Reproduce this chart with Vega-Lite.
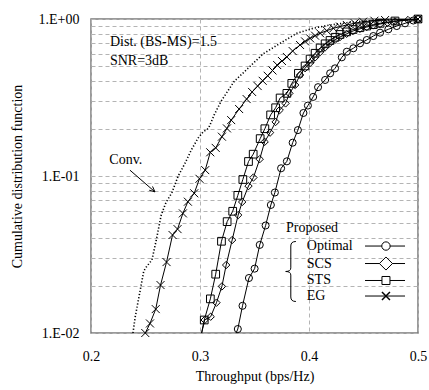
{
  "$schema": "https://vega.github.io/schema/vega-lite/v6.json",
  "width": 327,
  "height": 314,
  "autosize": {"type": "none"},
  "padding": {"left": 91, "top": 19, "right": 11, "bottom": 57},
  "background": "white",
  "config": {
    "view": {"stroke": "#7a7a7a", "strokeWidth": 1.5},
    "font": "Liberation Serif",
    "text": {"font": "Liberation Serif", "fontSize": 14, "color": "black", "align": "left", "baseline": "middle"}
  },
  "datasets": {
    "curves": [
      {"series": "Conv", "x": 0.2385, "y": 0.0100},
      {"series": "Conv", "x": 0.2406, "y": 0.0127},
      {"series": "Conv", "x": 0.2452, "y": 0.0188},
      {"series": "Conv", "x": 0.2484, "y": 0.0248},
      {"series": "Conv", "x": 0.2507, "y": 0.0263},
      {"series": "Conv", "x": 0.2559, "y": 0.0292},
      {"series": "Conv", "x": 0.2599, "y": 0.0391},
      {"series": "Conv", "x": 0.2644, "y": 0.0564},
      {"series": "Conv", "x": 0.2690, "y": 0.0683},
      {"series": "Conv", "x": 0.2741, "y": 0.0780},
      {"series": "Conv", "x": 0.2800, "y": 0.1000},
      {"series": "Conv", "x": 0.2864, "y": 0.1210},
      {"series": "Conv", "x": 0.2919, "y": 0.1460},
      {"series": "Conv", "x": 0.2984, "y": 0.1750},
      {"series": "Conv", "x": 0.3029, "y": 0.1910},
      {"series": "Conv", "x": 0.3078, "y": 0.2010},
      {"series": "Conv", "x": 0.3130, "y": 0.2450},
      {"series": "Conv", "x": 0.3194, "y": 0.3000},
      {"series": "Conv", "x": 0.3313, "y": 0.4000},
      {"series": "Conv", "x": 0.3460, "y": 0.5000},
      {"series": "Conv", "x": 0.3579, "y": 0.6000},
      {"series": "Conv", "x": 0.3735, "y": 0.7000},
      {"series": "Conv", "x": 0.3888, "y": 0.8110},
      {"series": "Conv", "x": 0.4038, "y": 0.8730},
      {"series": "Conv", "x": 0.4193, "y": 0.9160},
      {"series": "Conv", "x": 0.4347, "y": 0.9470},
      {"series": "Conv", "x": 0.4496, "y": 0.9710},
      {"series": "Conv", "x": 0.4743, "y": 0.9890},
      {"series": "Conv", "x": 0.5000, "y": 1.0000},

      {"series": "Optimal", "x": 0.3318, "y": 0.0095},
      {"series": "Optimal", "x": 0.3347, "y": 0.0106},
      {"series": "Optimal", "x": 0.3390, "y": 0.0149},
      {"series": "Optimal", "x": 0.3449, "y": 0.0224},
      {"series": "Optimal", "x": 0.3501, "y": 0.0257},
      {"series": "Optimal", "x": 0.3548, "y": 0.0364},
      {"series": "Optimal", "x": 0.3602, "y": 0.0484},
      {"series": "Optimal", "x": 0.3650, "y": 0.0654},
      {"series": "Optimal", "x": 0.3687, "y": 0.0785},
      {"series": "Optimal", "x": 0.3744, "y": 0.1120},
      {"series": "Optimal", "x": 0.3797, "y": 0.1240},
      {"series": "Optimal", "x": 0.3850, "y": 0.1630},
      {"series": "Optimal", "x": 0.3898, "y": 0.1960},
      {"series": "Optimal", "x": 0.3949, "y": 0.2520},
      {"series": "Optimal", "x": 0.3990, "y": 0.2810},
      {"series": "Optimal", "x": 0.4038, "y": 0.3190},
      {"series": "Optimal", "x": 0.4083, "y": 0.3680},
      {"series": "Optimal", "x": 0.4148, "y": 0.4090},
      {"series": "Optimal", "x": 0.4194, "y": 0.4510},
      {"series": "Optimal", "x": 0.4239, "y": 0.4850},
      {"series": "Optimal", "x": 0.4301, "y": 0.5700},
      {"series": "Optimal", "x": 0.4347, "y": 0.6190},
      {"series": "Optimal", "x": 0.4407, "y": 0.6510},
      {"series": "Optimal", "x": 0.4468, "y": 0.7000},
      {"series": "Optimal", "x": 0.4530, "y": 0.7350},
      {"series": "Optimal", "x": 0.4590, "y": 0.7790},
      {"series": "Optimal", "x": 0.4652, "y": 0.8180},
      {"series": "Optimal", "x": 0.4728, "y": 0.8600},
      {"series": "Optimal", "x": 0.4805, "y": 0.9020},
      {"series": "Optimal", "x": 0.4881, "y": 0.9390},
      {"series": "Optimal", "x": 0.4957, "y": 0.9780},
      {"series": "Optimal", "x": 0.5000, "y": 1.0000},

      {"series": "SCS", "x": 0.3008, "y": 0.0095},
      {"series": "SCS", "x": 0.3043, "y": 0.0121},
      {"series": "SCS", "x": 0.3098, "y": 0.0127},
      {"series": "SCS", "x": 0.3151, "y": 0.0156},
      {"series": "SCS", "x": 0.3201, "y": 0.0198},
      {"series": "SCS", "x": 0.3240, "y": 0.0271},
      {"series": "SCS", "x": 0.3295, "y": 0.0391},
      {"series": "SCS", "x": 0.3350, "y": 0.0564},
      {"series": "SCS", "x": 0.3387, "y": 0.0683},
      {"series": "SCS", "x": 0.3445, "y": 0.0863},
      {"series": "SCS", "x": 0.3490, "y": 0.0978},
      {"series": "SCS", "x": 0.3548, "y": 0.1280},
      {"series": "SCS", "x": 0.3593, "y": 0.1650},
      {"series": "SCS", "x": 0.3643, "y": 0.1890},
      {"series": "SCS", "x": 0.3694, "y": 0.2210},
      {"series": "SCS", "x": 0.3731, "y": 0.2630},
      {"series": "SCS", "x": 0.3785, "y": 0.2900},
      {"series": "SCS", "x": 0.3820, "y": 0.3360},
      {"series": "SCS", "x": 0.3873, "y": 0.3800},
      {"series": "SCS", "x": 0.3918, "y": 0.4400},
      {"series": "SCS", "x": 0.3964, "y": 0.4860},
      {"series": "SCS", "x": 0.4010, "y": 0.5250},
      {"series": "SCS", "x": 0.4056, "y": 0.5700},
      {"series": "SCS", "x": 0.4102, "y": 0.6160},
      {"series": "SCS", "x": 0.4148, "y": 0.6600},
      {"series": "SCS", "x": 0.4193, "y": 0.7030},
      {"series": "SCS", "x": 0.4240, "y": 0.7380},
      {"series": "SCS", "x": 0.4285, "y": 0.7680},
      {"series": "SCS", "x": 0.4345, "y": 0.8050},
      {"series": "SCS", "x": 0.4404, "y": 0.8390},
      {"series": "SCS", "x": 0.4467, "y": 0.8650},
      {"series": "SCS", "x": 0.4530, "y": 0.8890},
      {"series": "SCS", "x": 0.4590, "y": 0.9100},
      {"series": "SCS", "x": 0.4652, "y": 0.9290},
      {"series": "SCS", "x": 0.4720, "y": 0.9470},
      {"series": "SCS", "x": 0.4789, "y": 0.9640},
      {"series": "SCS", "x": 0.4908, "y": 0.9850},
      {"series": "SCS", "x": 0.5000, "y": 1.0000},

      {"series": "STS", "x": 0.3008, "y": 0.0095},
      {"series": "STS", "x": 0.3039, "y": 0.0121},
      {"series": "STS", "x": 0.3095, "y": 0.0165},
      {"series": "STS", "x": 0.3144, "y": 0.0237},
      {"series": "STS", "x": 0.3197, "y": 0.0384},
      {"series": "STS", "x": 0.3249, "y": 0.0512},
      {"series": "STS", "x": 0.3300, "y": 0.0596},
      {"series": "STS", "x": 0.3347, "y": 0.0753},
      {"series": "STS", "x": 0.3393, "y": 0.0950},
      {"series": "STS", "x": 0.3445, "y": 0.1237},
      {"series": "STS", "x": 0.3488, "y": 0.1377},
      {"series": "STS", "x": 0.3552, "y": 0.1730},
      {"series": "STS", "x": 0.3595, "y": 0.2000},
      {"series": "STS", "x": 0.3648, "y": 0.2450},
      {"series": "STS", "x": 0.3694, "y": 0.2720},
      {"series": "STS", "x": 0.3735, "y": 0.3140},
      {"series": "STS", "x": 0.3797, "y": 0.3360},
      {"series": "STS", "x": 0.3842, "y": 0.3890},
      {"series": "STS", "x": 0.3903, "y": 0.4510},
      {"series": "STS", "x": 0.3964, "y": 0.5020},
      {"series": "STS", "x": 0.4010, "y": 0.5560},
      {"series": "STS", "x": 0.4056, "y": 0.6050},
      {"series": "STS", "x": 0.4102, "y": 0.6540},
      {"series": "STS", "x": 0.4148, "y": 0.6950},
      {"series": "STS", "x": 0.4193, "y": 0.7300},
      {"series": "STS", "x": 0.4240, "y": 0.7650},
      {"series": "STS", "x": 0.4285, "y": 0.7970},
      {"series": "STS", "x": 0.4345, "y": 0.8280},
      {"series": "STS", "x": 0.4404, "y": 0.8570},
      {"series": "STS", "x": 0.4467, "y": 0.8800},
      {"series": "STS", "x": 0.4530, "y": 0.9020},
      {"series": "STS", "x": 0.4590, "y": 0.9210},
      {"series": "STS", "x": 0.4652, "y": 0.9390},
      {"series": "STS", "x": 0.4789, "y": 0.9710},
      {"series": "STS", "x": 0.5000, "y": 1.0000},

      {"series": "EG", "x": 0.2498, "y": 0.0100},
      {"series": "EG", "x": 0.2541, "y": 0.0115},
      {"series": "EG", "x": 0.2594, "y": 0.0142},
      {"series": "EG", "x": 0.2638, "y": 0.0202},
      {"series": "EG", "x": 0.2693, "y": 0.0283},
      {"series": "EG", "x": 0.2748, "y": 0.0421},
      {"series": "EG", "x": 0.2794, "y": 0.0459},
      {"series": "EG", "x": 0.2843, "y": 0.0578},
      {"series": "EG", "x": 0.2889, "y": 0.0686},
      {"series": "EG", "x": 0.2947, "y": 0.0776},
      {"series": "EG", "x": 0.2995, "y": 0.0960},
      {"series": "EG", "x": 0.3048, "y": 0.1090},
      {"series": "EG", "x": 0.3094, "y": 0.1416},
      {"series": "EG", "x": 0.3144, "y": 0.1510},
      {"series": "EG", "x": 0.3201, "y": 0.1780},
      {"series": "EG", "x": 0.3247, "y": 0.2010},
      {"series": "EG", "x": 0.3286, "y": 0.2270},
      {"series": "EG", "x": 0.3359, "y": 0.2670},
      {"series": "EG", "x": 0.3428, "y": 0.3090},
      {"series": "EG", "x": 0.3478, "y": 0.3430},
      {"series": "EG", "x": 0.3529, "y": 0.3740},
      {"series": "EG", "x": 0.3575, "y": 0.4040},
      {"series": "EG", "x": 0.3621, "y": 0.4350},
      {"series": "EG", "x": 0.3665, "y": 0.4700},
      {"series": "EG", "x": 0.3708, "y": 0.5090},
      {"series": "EG", "x": 0.3752, "y": 0.5400},
      {"series": "EG", "x": 0.3797, "y": 0.5730},
      {"series": "EG", "x": 0.3850, "y": 0.6250},
      {"series": "EG", "x": 0.3918, "y": 0.6830},
      {"series": "EG", "x": 0.3964, "y": 0.7200},
      {"series": "EG", "x": 0.4010, "y": 0.7530},
      {"series": "EG", "x": 0.4056, "y": 0.7830},
      {"series": "EG", "x": 0.4102, "y": 0.8110},
      {"series": "EG", "x": 0.4163, "y": 0.8430},
      {"series": "EG", "x": 0.4224, "y": 0.8730},
      {"series": "EG", "x": 0.4285, "y": 0.8950},
      {"series": "EG", "x": 0.4347, "y": 0.9160},
      {"series": "EG", "x": 0.4420, "y": 0.9400},
      {"series": "EG", "x": 0.4496, "y": 0.9610},
      {"series": "EG", "x": 0.4600, "y": 0.9750},
      {"series": "EG", "x": 0.4698, "y": 0.9850},
      {"series": "EG", "x": 0.5000, "y": 1.0000}
    ]
  },
  "layer": [
    {
      "data": {"name": "curves"},
      "transform": [{"filter": "datum.series != 'Conv'"}],
      "mark": {"type": "line", "color": "black", "strokeWidth": 1, "clip": true},
      "encoding": {
        "x": {
          "field": "x", "type": "quantitative",
          "scale": {"domain": [0.2, 0.5], "nice": false, "zero": false},
          "axis": {
            "values": [0.2, 0.3, 0.4, 0.5], "format": ".1f",
            "grid": true, "gridDash": [4, 3], "gridColor": "#b4b4b4", "gridWidth": 1,
            "ticks": false, "domain": false,
            "labelFont": "Liberation Serif", "labelFontSize": 14, "labelColor": "black", "labelPadding": 16,
            "labelFlush": false,
            "title": "Throughput (bps/Hz)", "titleFont": "Liberation Serif", "titleFontSize": 14,
            "titleFontWeight": "normal", "titleColor": "black", "titlePadding": 6
          }
        },
        "y": {
          "field": "y", "type": "quantitative",
          "scale": {"type": "log", "domain": [0.01, 1], "nice": false},
          "axis": {
            "values": [0.01, 0.02, 0.03, 0.04, 0.05, 0.06, 0.07, 0.08, 0.09, 0.1, 0.2, 0.3, 0.4, 0.5, 0.6, 0.7, 0.8, 0.9, 1],
            "labelExpr": "datum.value == 1 ? '1.E+00' : (datum.value == 0.1 ? '1.E-01' : (datum.value == 0.01 ? '1.E-02' : ''))",
            "labelOverlap": false,
            "grid": true, "gridDash": [4, 3], "gridColor": "#b4b4b4", "gridWidth": 1,
            "ticks": false, "domain": false,
            "labelFont": "Liberation Serif", "labelFontSize": 14, "labelColor": "black", "labelPadding": 12,
            "labelFlush": false,
            "title": "Cumulative distribution function", "titleFont": "Liberation Serif", "titleFontSize": 14,
            "titleFontWeight": "normal", "titleColor": "black", "titlePadding": 14
          }
        },
        "detail": {"field": "series"}
      }
    },
    {
      "data": {"name": "curves"},
      "transform": [{"filter": "datum.series == 'Conv'"}],
      "mark": {"type": "line", "color": "black", "strokeWidth": 1.6, "strokeDash": [1.2, 2], "clip": true},
      "encoding": {
        "x": {"field": "x", "type": "quantitative"},
        "y": {"field": "y", "type": "quantitative"}
      }
    },
    {
      "data": {"name": "curves"},
      "transform": [{"filter": "datum.series != 'Conv' && datum.y >= 0.0099"}],
      "mark": {"type": "point", "filled": false, "color": "black", "strokeWidth": 1, "opacity": 1},
      "encoding": {
        "x": {"field": "x", "type": "quantitative"},
        "y": {"field": "y", "type": "quantitative"},
        "shape": {
          "field": "series", "type": "nominal",
          "scale": {"domain": ["Optimal", "SCS", "STS", "EG"], "range": ["circle", "diamond", "square", "M-1,-1L1,1M-1,1L1,-1"]},
          "legend": null
        },
        "size": {
          "field": "series", "type": "nominal",
          "scale": {"domain": ["Optimal", "SCS", "STS", "EG"], "range": [50, 64, 44, 40]},
          "legend": null
        }
      }
    },
    {
      "data": {"values": [{}]},
      "mark": {"type": "text", "text": "Dist. (BS-MS)=1.5"},
      "encoding": {"x": {"datum": 0.2174, "type": "quantitative"}, "y": {"datum": 0.717, "type": "quantitative"}}
    },
    {
      "data": {"values": [{}]},
      "mark": {"type": "text", "text": "SNR=3dB"},
      "encoding": {"x": {"datum": 0.2174, "type": "quantitative"}, "y": {"datum": 0.544, "type": "quantitative"}}
    },
    {
      "data": {"values": [{}]},
      "mark": {"type": "text", "text": "Conv."},
      "encoding": {"x": {"datum": 0.2168, "type": "quantitative"}, "y": {"datum": 0.1264, "type": "quantitative"}}
    },
    {
      "data": {"values": [{}]},
      "mark": {"type": "point", "shape": "M-0.758,-0.658L0.758,0.658M0.412,0.559L0.758,0.658L0.612,0.329", "size": 1089, "filled": false, "color": "black", "strokeWidth": 1, "opacity": 1},
      "encoding": {"x": {"datum": 0.2472, "type": "quantitative"}, "y": {"datum": 0.0929, "type": "quantitative"}}
    },
    {
      "data": {"values": [{}]},
      "mark": {"type": "text", "text": "Proposed"},
      "encoding": {"x": {"datum": 0.3789, "type": "quantitative"}, "y": {"datum": 0.0466, "type": "quantitative"}}
    },
    {
      "data": {"values": [{}]},
      "mark": {"type": "point", "shape": "M0.17,-1Q0,-1 0,-0.85L0,-0.12Q0,0 -0.17,0Q0,0 0,0.12L0,0.85Q0,1 0.17,1", "size": 3600, "filled": false, "color": "black", "strokeWidth": 1, "opacity": 1},
      "encoding": {"x": {"datum": 0.3833, "type": "quantitative"}, "y": {"datum": 0.02465, "type": "quantitative"}}
    },
    {
      "data": {"values": [{}]},
      "mark": {"type": "text", "text": "Optimal"},
      "encoding": {"x": {"datum": 0.398, "type": "quantitative"}, "y": {"datum": 0.0358, "type": "quantitative"}}
    },
    {
      "data": {"values": [{}]},
      "mark": {"type": "text", "text": "SCS"},
      "encoding": {"x": {"datum": 0.398, "type": "quantitative"}, "y": {"datum": 0.0277, "type": "quantitative"}}
    },
    {
      "data": {"values": [{}]},
      "mark": {"type": "text", "text": "STS"},
      "encoding": {"x": {"datum": 0.398, "type": "quantitative"}, "y": {"datum": 0.0216, "type": "quantitative"}}
    },
    {
      "data": {"values": [{}]},
      "mark": {"type": "text", "text": "EG"},
      "encoding": {"x": {"datum": 0.398, "type": "quantitative"}, "y": {"datum": 0.0172, "type": "quantitative"}}
    },
    {
      "data": {"values": [{}]},
      "mark": {"type": "rule", "color": "black", "strokeWidth": 1},
      "encoding": {"x": {"datum": 0.4514, "type": "quantitative"}, "x2": {"datum": 0.4881}, "y": {"datum": 0.0358, "type": "quantitative"}}
    },
    {
      "data": {"values": [{}]},
      "mark": {"type": "rule", "color": "black", "strokeWidth": 1},
      "encoding": {"x": {"datum": 0.4514, "type": "quantitative"}, "x2": {"datum": 0.4881}, "y": {"datum": 0.0277, "type": "quantitative"}}
    },
    {
      "data": {"values": [{}]},
      "mark": {"type": "rule", "color": "black", "strokeWidth": 1},
      "encoding": {"x": {"datum": 0.4514, "type": "quantitative"}, "x2": {"datum": 0.4881}, "y": {"datum": 0.0216, "type": "quantitative"}}
    },
    {
      "data": {"values": [{}]},
      "mark": {"type": "rule", "color": "black", "strokeWidth": 1},
      "encoding": {"x": {"datum": 0.4514, "type": "quantitative"}, "x2": {"datum": 0.4881}, "y": {"datum": 0.0172, "type": "quantitative"}}
    },
    {
      "data": {"values": [{}]},
      "mark": {"type": "point", "shape": "circle", "size": 70, "filled": true, "fill": "white", "stroke": "black", "strokeWidth": 1, "opacity": 1},
      "encoding": {"x": {"datum": 0.4706, "type": "quantitative"}, "y": {"datum": 0.0358, "type": "quantitative"}}
    },
    {
      "data": {"values": [{}]},
      "mark": {"type": "point", "shape": "diamond", "size": 170, "filled": true, "fill": "white", "stroke": "black", "strokeWidth": 1, "opacity": 1},
      "encoding": {"x": {"datum": 0.4706, "type": "quantitative"}, "y": {"datum": 0.0277, "type": "quantitative"}}
    },
    {
      "data": {"values": [{}]},
      "mark": {"type": "point", "shape": "square", "size": 64, "filled": true, "fill": "white", "stroke": "black", "strokeWidth": 1, "opacity": 1},
      "encoding": {"x": {"datum": 0.4706, "type": "quantitative"}, "y": {"datum": 0.0216, "type": "quantitative"}}
    },
    {
      "data": {"values": [{}]},
      "mark": {"type": "point", "shape": "M-1,-1L1,1M-1,1L1,-1", "size": 64, "filled": false, "color": "black", "strokeWidth": 1.5, "opacity": 1},
      "encoding": {"x": {"datum": 0.4706, "type": "quantitative"}, "y": {"datum": 0.0172, "type": "quantitative"}}
    }
  ]
}
